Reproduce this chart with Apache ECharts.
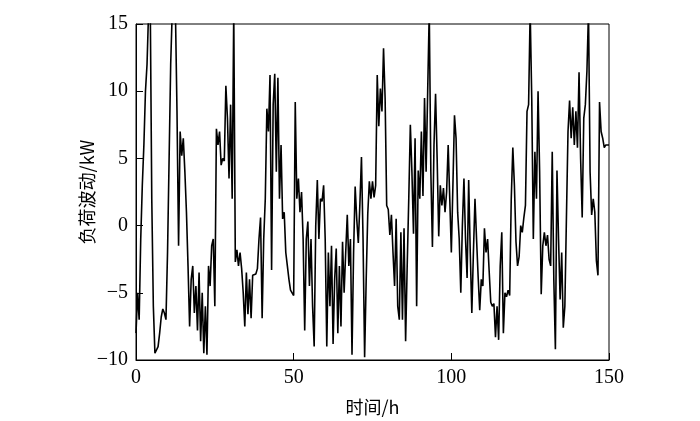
<!DOCTYPE html>
<html>
<head>
<meta charset="utf-8">
<script src="https://cdn.jsdelivr.net/npm/echarts@6/dist/echarts.min.js"></script>
<style>html,body{margin:0;padding:0;background:#fff;}#c{width:700px;height:421px;}</style>
</head>
<body>
<div id="c"></div>
<script>
// time step 0.5 h, from 0 to 150 h
const timeStep = 0.5;
const loadFluctuation = [
  -8, -5, -7, -1, 3, 6, 10, 12, 16, 17,
  2, -6, -9.5, -9.6, -9, -8, -6.8, -6.2, -6.5, -7,
  -2, 5, 12, 16, 17, 16, 8.5, -1.5, 7, 5.2,
  6.5, 4, 1, -3, -7.5, -4, -3, -6.5, -4.5, -7.8,
  -3.5, -8.6, -5, -9.5, -6, -9.6, -3, -4.5, -1.5, -1,
  -6, 7.2, 6, 7, 4.5, 5, 4.8, 10.4, 8, 3.5,
  9, 2, 16, -2.7, -1.8, -3, -2, -3.2, -5, -7.5,
  -3.5, -6.6, -4, -6.9, -3.7, -3.6, -3.6, -3.2, -1, 0.6,
  -6.9, -1, 2, 8.7, 7, 11.2, -3.3, 9, 11.3, 4,
  11, 2, 6, 0.5, 1, -2, -3, -4, -4.8, -5,
  -5.2, 9.2, 2, 3.5, 1, 2.5, -1, -7.8, -1, 0.3,
  -4.5, -1, -6, -9, 0, 3.4, -1, 2, 1.8, 3,
  -1, -9, -2, -6, -1.5, -8.8, -4, -1.7, -8, -3,
  -7.5, -1.2, -5, -2, 0.8, -3, -1, -9.6, -2, 2.9,
  0.5, -1.3, 1.6, 5.1, -1, -9.8, -4, 0.9, 3.3, 2,
  3.3, 2.1, 3, 11.2, 7.4, 10.2, 8.5, 13.2, 9.5, 1.5,
  1.2, -0.7, 0.8, -2, -4.5, 0.5, -6, -7, -0.5, -7,
  -0.2, -8.6, -3, 2, 7.5, 4, -0.6, 6.5, -6, 4.1,
  2, 7, 2.2, 9.5, 4, 10, 16, 4, -1.6, 6,
  9.8, 5, -0.8, 3, 1.5, 2.8, 1, 2.5, 6, 2,
  -2, 3, 8.2, 6.5, 1, -1, -5, 0, 3.5, -1,
  -3.9, 3.4, -2, -6.5, -2, 2, -1, -3.8, -6.3, -4,
  -4.5, -0.2, -2, -1, -3.4, -5.7, -6, -5.8, -8.3, -6,
  -8.5, -3, -0.5, -8, -5, -5.3, -4.8, -5.2, 2, 5.8,
  3, -1.2, -3, -2.3, 0, -0.5, 0.6, 1.5, 8.5, 9,
  16, 9.5, -1, 5.5, 2, 10, 4, -5.1, -1.5, -0.5,
  -1.5, -0.7, -2.5, -3, 5.5, -4, -9.2, 4.1, -1, -5.5,
  -2, -7.6, -6, 0.6, 7, 9.3, 6.5, 8.8, 6, 8.5,
  5.8, 11.4, 5, 0.6, 8, 9, 11.5, 16, 4, 0.8,
  2, 1, -2.6, -3.7, 9.2, 7, 6.5, 5.8, 6, 6,
  6
];
const xTicks = [0, 50, 100, 150];
const yTicks = [-10, -5, 0, 5, 10, 15];
const xName = '时间/h';
const yName = '负荷波动/kW';

const points = loadFluctuation.map((v, i) => [i * timeStep, v]);
const fmt = v => String(v).replace('-', '\u2212');
const labelFont = { fontFamily: 'Liberation Serif', fontSize: 20, color: '#000' };

const chart = echarts.init(document.getElementById('c'), null, { renderer: 'canvas' });
chart.setOption({
  animation: false,
  backgroundColor: '#fff',
  grid: { left: 136, right: 91, top: 24, bottom: 54, show: true, borderColor: '#000', borderWidth: 1, backgroundColor: 'transparent' },
  xAxis: {
    type: 'value', min: xTicks[0], max: xTicks[xTicks.length - 1], interval: 50,
    name: xName, nameLocation: 'middle', nameGap: 38, nameMoveOverlap: false,
    nameTextStyle: { fontFamily: 'Noto Sans CJK SC', fontSize: 18, color: '#000' },
    axisLine: { show: true, onZero: false, lineStyle: { color: '#000', width: 1 } },
    axisTick: { show: true, inside: true, length: 7, lineStyle: { color: '#000' } },
    axisLabel: Object.assign({ margin: 8, formatter: fmt }, labelFont),
    splitLine: { show: false }
  },
  yAxis: {
    type: 'value', min: yTicks[0], max: yTicks[yTicks.length - 1], interval: 5,
    name: yName, nameLocation: 'middle', nameGap: 40, nameRotate: 90, nameMoveOverlap: false,
    nameTextStyle: { fontFamily: 'Noto Sans CJK SC', fontSize: 18, color: '#000' },
    axisLine: { show: true, onZero: false, lineStyle: { color: '#000', width: 1 } },
    axisTick: { show: true, inside: true, length: 7, lineStyle: { color: '#000' } },
    axisLabel: Object.assign({ margin: 8, formatter: fmt }, labelFont),
    splitLine: { show: false }
  },
  series: [{
    type: 'line', data: points, showSymbol: false, symbol: 'none', clip: true,
    lineStyle: { color: '#000', width: 1.6 }
  }]
});
</script>
</body>
</html>
